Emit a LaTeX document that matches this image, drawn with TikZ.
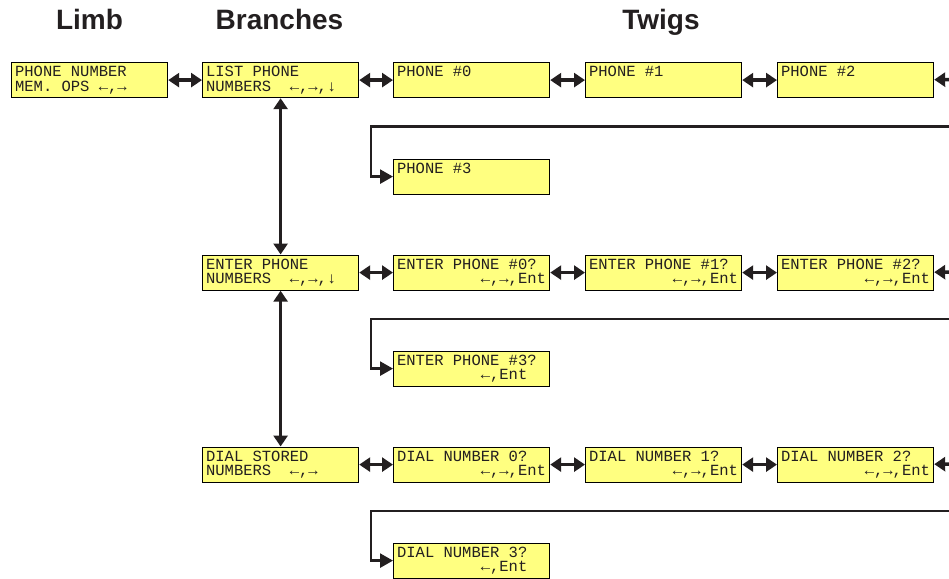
\documentclass[tikz,border=0pt]{standalone}
\usepackage{fontspec}
\setmonofont{Liberation Mono}
\newfontfamily\headfont{Liberation Sans}
\usetikzlibrary{arrows.meta}
\definecolor{lcdyellow}{HTML}{FFFF80}
\definecolor{ink}{HTML}{231F20}
\newcommand{\lcdfont}{\ttfamily\fontsize{15.5}{14.5}\selectfont}
\newcommand{\lcdspace}{\spaceskip=0.6em\xspaceskip=0.6em\relax}
\newcommand{\lcdgap}{\hspace*{5.4em}}

\begin{document}
\begin{tikzpicture}[x=1pt,y=-1pt,
    every node/.style={ink},
    title/.style={font=\headfont\bfseries\fontsize{28}{30}\selectfont,anchor=base},
    lcd/.style={draw=black,line width=1.2pt,fill=lcdyellow,anchor=north west,
        minimum width=156pt,minimum height=35pt,inner xsep=3.5pt,inner ysep=0pt,
        text width=149pt,align=left,text height=9.5pt,text depth=16.5pt,
        font=\lcdfont,execute at begin node=\lcdspace},
    link/.style={draw=ink,line width=3.4pt,
        {Triangle[length=11pt,width=14pt]}-{Triangle[length=11pt,width=14pt]}},
    back/.style={draw=ink,line width=2.6pt,-{Triangle[length=13pt,width=14pt]}}]
    \useasboundingbox (0,0) rectangle (949,578);

    % headings
    \node[title] (limbhead) at (89.5,29.5) {Limb};
    \node[title] (branchhead) at (279.5,29.5) {Branches};
    \node[title] (twighead) at (661,29.5) {Twigs};

    % limb and branches
    \node[lcd] (limb) at (11,62) {PHONE NUMBER\\MEM.~OPS ←,→};
    \node[lcd] (list) at (202,62) {LIST PHONE\\NUMBERS~~←,→,↓};
    \node[lcd] (enter) at (202,254.5) {ENTER PHONE\\NUMBERS~~←,→,↓};
    \node[lcd] (dial) at (202,446.5) {DIAL STORED\\NUMBERS~~←,→};

    % twigs
    \node[lcd] (list0) at (393,62) {PHONE \#0};
    \node[lcd] (list1) at (585,62) {PHONE \#1};
    \node[lcd] (list2) at (777,62) {PHONE \#2};
    \node[lcd] (list3) at (393,158.5) {PHONE \#3};

    \node[lcd] (enter0) at (393,254.5) {ENTER PHONE \#0?\\\lcdgap←,→,Ent};
    \node[lcd] (enter1) at (585,254.5) {ENTER PHONE \#1?\\\lcdgap←,→,Ent};
    \node[lcd] (enter2) at (777,254.5) {ENTER PHONE \#2?\\\lcdgap←,→,Ent};
    \node[lcd] (enter3) at (393,350.5) {ENTER PHONE \#3?\\\lcdgap←,Ent};

    \node[lcd] (dial0) at (393,446.5) {DIAL NUMBER 0?\\\lcdgap←,→,Ent};
    \node[lcd] (dial1) at (585,446.5) {DIAL NUMBER 1?\\\lcdgap←,→,Ent};
    \node[lcd] (dial2) at (777,446.5) {DIAL NUMBER 2?\\\lcdgap←,→,Ent};
    \node[lcd] (dial3) at (393,542.5) {DIAL NUMBER 3?\\\lcdgap←,Ent};

    % ends past the right edge
    \coordinate (listmore) at (969,79.5);
    \coordinate (entermore) at (969,272);
    \coordinate (dialmore) at (969,464);
    \coordinate (listback) at (960,126.5);
    \coordinate (listturn) at (371,126.5);
    \coordinate (enterback) at (960,319);
    \coordinate (enterturn) at (371,319);
    \coordinate (dialback) at (960,511);
    \coordinate (dialturn) at (371,511);

    \draw[link] (limb) -- (list);
    \draw[link] (list) -- (enter);
    \draw[link] (enter) -- (dial);

    \draw[link] (list) -- (list0);
    \draw[link] (list0) -- (list1);
    \draw[link] (list1) -- (list2);
    \draw[link] (list2) -- (listmore);
    \draw[back] (listback) -- (listturn) |- (list3);

    \draw[link] (enter) -- (enter0);
    \draw[link] (enter0) -- (enter1);
    \draw[link] (enter1) -- (enter2);
    \draw[link] (enter2) -- (entermore);
    \draw[back] (enterback) -- (enterturn) |- (enter3);

    \draw[link] (dial) -- (dial0);
    \draw[link] (dial0) -- (dial1);
    \draw[link] (dial1) -- (dial2);
    \draw[link] (dial2) -- (dialmore);
    \draw[back] (dialback) -- (dialturn) |- (dial3);
\end{tikzpicture}
\end{document}
